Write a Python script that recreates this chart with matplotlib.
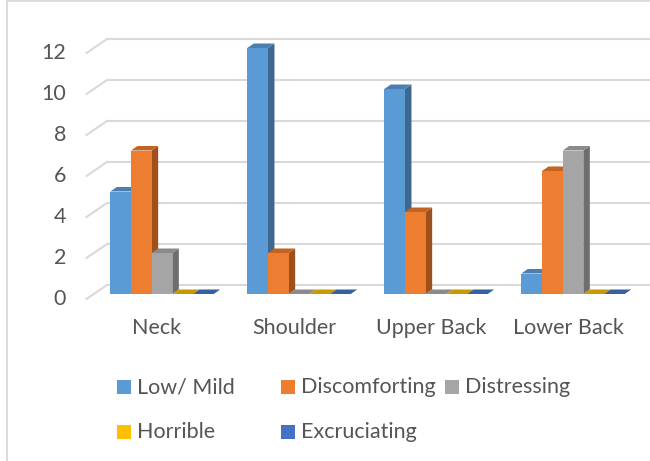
import matplotlib
matplotlib.use("Agg")
import matplotlib.pyplot as plt
from matplotlib.patches import Polygon, Rectangle
from matplotlib.lines import Line2D
from matplotlib.transforms import offset_copy

# ---- data ----
categories = ["Neck", "Shoulder", "Upper Back", "Lower Back"]
series_names = ["Low/ Mild", "Discomforting", "Distressing", "Horrible", "Excruciating"]
low_mild = [5, 12, 10, 1]
discomforting = [7, 2, 4, 6]
distressing = [2, 0, 0, 7]
horrible = [0, 0, 0, 0]
excruciating = [0, 0, 0, 0]
y_ticks = [0, 2, 4, 6, 8, 10, 12]

series_values = [low_mild, discomforting, distressing, horrible, excruciating]

# front / side / top shades for the pseudo-3D columns
front_colors = ["#5B9BD5", "#ED7D31", "#A5A5A5", "#FFC000", "#4472C4"]
side_colors = ["#3E6890", "#9E501D", "#6E6E6E", "#A67D00", "#2D4D85"]
top_colors = ["#4A7FB0", "#C4621F", "#8A8A8A", "#C89A00", "#36609F"]

TEXT = "#555555"
GRID = "#D9D9D9"
plt.rcParams["font.family"] = ["Lato", "DejaVu Sans"]
FS = 15.5

W, H = 650, 461
fig = plt.figure(figsize=(W / 100, H / 100), dpi=100)
fig.patch.set_facecolor("white")

# front plane of the columns (pixel box of the plot area)
left_px, right_px, zero_px, top_px = 93.5, 641.5, 294, 48
ax = fig.add_axes([left_px / W, 1 - zero_px / H,
                   (right_px - left_px) / W, (zero_px - top_px) / H])
ax.set_xlim(-0.5, len(categories) - 0.5)
ax.set_ylim(0, 12)
ax.axis("off")

# data units per pixel
px_x = len(categories) / (right_px - left_px)
px_y = 12 / (zero_px - top_px)

# depth offsets (pixels): floor front, back wall, column depth
front_dx, front_dy = -7, -5
back_dx, back_dy = 13.5, 9
bar_dx, bar_dy = 6.5, 4.5

# back wall gridlines and left floor/wall edge
back = offset_copy(ax.transData, fig=fig, x=back_dx, y=back_dy, units="dots")
for t in y_ticks:
    ax.plot([-0.5, len(categories) - 0.5 + 1], [t, t], color=GRID, lw=1.5,
            transform=back, clip_on=False, zorder=0, solid_capstyle="butt")
    ax.plot([-0.5 + front_dx * px_x, -0.5 + back_dx * px_x],
            [t + front_dy * px_y, t + back_dy * px_y],
            color=GRID, lw=1.5, clip_on=False, zorder=0)
    ax.text(-0.5 - 27.5 * px_x, t + front_dy * px_y, str(t), ha="right",
            va="center", fontsize=FS, color=TEXT)

# columns
n = len(series_values)
bw = 0.151
x0 = -bw * n / 2
ddx, ddy = bar_dx * px_x, bar_dy * px_y
for i, vals in enumerate(series_values):
    xs = [c + x0 + i * bw for c in range(len(categories))]
    ax.bar(xs, vals, width=bw, align="edge", color=front_colors[i],
           zorder=3 * i + 3, linewidth=0)
    for xl, v in zip(xs, vals):
        xr = xl + bw
        if v > 0:
            ax.add_patch(Polygon([(xr, 0), (xr, v), (xr + ddx, v + ddy), (xr + ddx, ddy)],
                                 closed=True, facecolor=side_colors[i], lw=0,
                                 zorder=3 * i + 1, clip_on=False))
        ax.add_patch(Polygon([(xl, v), (xr, v), (xr + ddx, v + ddy), (xl + ddx, v + ddy)],
                             closed=True, facecolor=top_colors[i], lw=0,
                             zorder=3 * i + 2, clip_on=False))

# category labels
for c, name in enumerate(categories):
    ax.text(c - 5 * px_x, -34 * px_y, name, ha="center", va="center",
            fontsize=FS, color=TEXT)

# legend (two rows, fixed column slots)
legend_slots = [(117, 387), (281, 387), (445, 387), (117, 432), (281, 432)]
for (lx, ly), name, col in zip(legend_slots, series_names, front_colors):
    fig.patches.append(Rectangle((lx / W, 1 - (ly + 7) / H), 14 / W, 14 / H,
                                 transform=fig.transFigure, facecolor=col, lw=0))
    fig.text((lx + 20) / W, 1 - ly / H, name, ha="left", va="center",
             fontsize=FS, color=TEXT)

# chart border
fig.add_artist(Line2D([6.5 / W, 6.5 / W], [0, 1 - 1.5 / H], color=GRID, lw=1.3,
                      transform=fig.transFigure))
fig.add_artist(Line2D([6.5 / W, 1], [1 - 1.5 / H, 1 - 1.5 / H], color=GRID, lw=1.3,
                      transform=fig.transFigure))

fig.savefig("out.png", dpi=100, facecolor="white")
